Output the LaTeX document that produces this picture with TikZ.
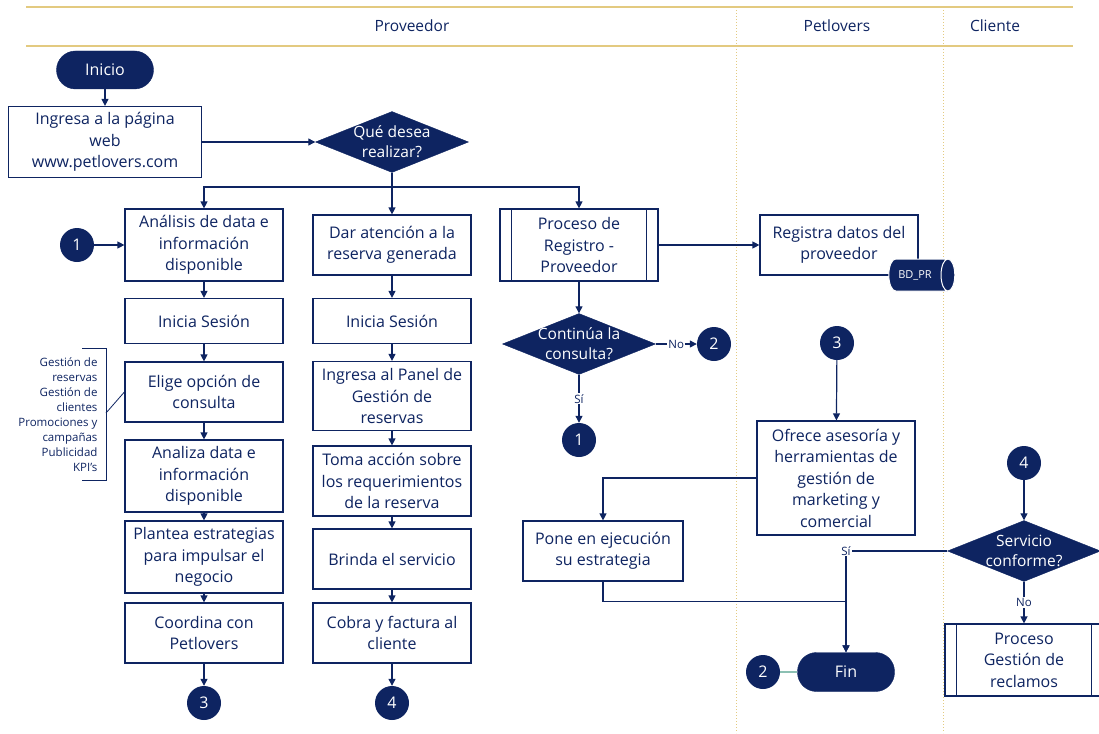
\documentclass[tikz,border=0pt]{standalone}
\usepackage{fontspec}
\setmainfont{Open Sans}
\usetikzlibrary{shapes.geometric,arrows.meta}
\definecolor{navy}{HTML}{0E2461}
\definecolor{lanegold}{HTML}{E3CA80}
\definecolor{linkteal}{HTML}{8CC0B3}

\tikzset{
    procbox/.style={draw=navy, line width=1.2pt, fill=white, text=navy, align=center,
        font=\fontsize{16}{21.5}\selectfont, inner sep=0pt, minimum width=158},
    terminal/.style={draw=navy, fill=navy, text=white, rounded corners=19pt,
        minimum width=97, minimum height=38, font=\fontsize{16}{18}\selectfont},
    decision/.style={diamond, draw=navy, fill=navy, minimum width=153, minimum height=61, inner sep=0pt},
    dtext/.style={text=white, align=center, font=\fontsize{15.5}{20}\selectfont},
    conn/.style={circle, fill=navy, text=white, minimum size=34, inner sep=0pt,
        font=\fontsize{16}{18}\selectfont},
    arr/.style={draw=navy, line width=1.2pt, -{Triangle[length=7pt,width=7pt]}},
    lbl/.style={fill=white, text=navy, font=\fontsize{11.5}{13}\selectfont, inner sep=1pt},
    lane/.style={text=navy, font=\fontsize{15.5}{18}\selectfont}
}

\begin{document}
\begin{tikzpicture}[x=1pt, y=-1pt]
        \useasboundingbox (0,0) rectangle (1099,733);
        % carriles
        \draw [lanegold, line width=1.5pt] (26,7) -- (1073,7);
        \draw [lanegold, line width=1.5pt] (26,46) -- (1073,46);
        \foreach \x in {736, 943}
            \draw [lanegold, dotted, line width=1pt] (\x,7) -- (\x,733);
        \foreach \name/\x in {Proveedor/412, Petlovers/837, Cliente/995}
            \node [lane] (lane-\name) at (\x,26) {\name};
        % inicio
        \node [terminal] (inicio) at (105,70) {Inicio};
        \node [procbox, minimum width=193, minimum height=71] (ingresa) at (105,142) {Ingresa a la página\\web\\www.petlovers.com};
        \node [decision] (que) at (392,142) {};
        \node [dtext] (que-txt) at (que) {Qué desea\\realizar?};
        \coordinate (split) at (392,187);
        % columna analisis
        \node [conn] (c1a) at (77,245) {1};
        \node [procbox, minimum height=72] (analisis) at (204,245) {Análisis de data e\\información\\disponible};
        \node [procbox, minimum height=45] (sesA) at (204,321) {Inicia Sesión};
        \node [procbox, minimum height=60] (elige) at (204,392) {Elige opción de\\consulta};
        \node [procbox, minimum height=72] (analiza) at (204,476) {Analiza data e\\información\\disponible};
        \node [procbox, minimum height=72] (plantea) at (204,557) {Plantea estrategias\\para impulsar el\\negocio};
        \node [procbox, minimum height=60] (coordina) at (204,633) {Coordina con\\Petlovers};
        \node [conn] (c3a) at (204,703) {3};
        % opciones
        \node [text=navy, align=right, anchor=east, font=\fontsize{11.5}{15}\selectfont] (opciones) at (101,415)
            {Gestión de\\reservas\\Gestión de\\clientes\\Promociones y\\campañas\\Publicidad\\KPI’s};
        \draw [navy, line width=0.8pt] (82,348) -- (106,348) -- (106,480) -- (82,480);
        \coordinate (brace) at (106,413);
        \draw [navy, line width=0.8pt] (brace) -- (elige.west);
        % columna reserva
        \node [procbox, minimum height=60] (dar) at (392,245) {Dar atención a la\\reserva generada};
        \node [procbox, minimum height=45] (sesB) at (392,321) {Inicia Sesión};
        \node [procbox, minimum height=69] (panel) at (392,396) {Ingresa al Panel de\\Gestión de\\reservas};
        \node [procbox, minimum height=70] (toma) at (392,481) {Toma acción sobre\\los requerimientos\\de la reserva};
        \node [procbox, minimum height=60] (brinda) at (392,559) {Brinda el servicio};
        \node [procbox, minimum height=60] (cobra) at (392,633) {Cobra y factura al\\cliente};
        \node [conn] (c4a) at (392,703) {4};
        % registro
        \node [procbox, minimum height=72] (registro) at (579,245) {Proceso de\\Registro -\\Proveedor};
        \foreach \n in {registro}{
            \draw [navy, line width=1.2pt] ([xshift=12pt]\n.north west) -- ([xshift=12pt]\n.south west);
            \draw [navy, line width=1.2pt] ([xshift=-12pt]\n.north east) -- ([xshift=-12pt]\n.south east);
        }
        \node [procbox, minimum height=60] (registra) at (839,245) {Registra datos del\\proveedor};
        \node [cylinder, draw=white, line width=1pt, fill=navy, text=white, minimum width=32, minimum height=66,
            aspect=0.5, inner xsep=1pt, inner ysep=9pt, font=\fontsize{11}{13}\selectfont] (bd) at (915,275) {BD\_PR};
        \node [decision] (continua) at (579,344) {};
        \node [dtext] (continua-txt) at (continua) {Continúa la\\consulta?};
        \node [conn] (c2a) at (714,344) {2};
        \node [conn] (c1b) at (579,440) {1};
        % petlovers
        \node [conn] (c3b) at (837,343) {3};
        \node [procbox, minimum height=114] (ofrece) at (836,478) {Ofrece asesoría y\\herramientas de\\gestión de\\marketing y\\comercial};
        \node [procbox, minimum width=160, minimum height=60] (pone) at (603,551) {Pone en ejecución\\su estrategia};
        \node [terminal, minimum height=39] (fin) at (846,672) {Fin};
        \node [conn] (c2b) at (763,672) {2};
        % cliente
        \node [conn] (c4b) at (1024,463) {4};
        \node [decision] (serv) at (1024,551) {};
        \node [dtext] (serv-txt) at (serv) {Servicio\\conforme?};
        \node [procbox, minimum height=72] (recl) at (1024,660) {Proceso\\Gestión de\\reclamos};
        \draw [navy, line width=1.2pt] ([xshift=12pt]recl.north west) -- ([xshift=12pt]recl.south west);
        \draw [navy, line width=1.2pt] ([xshift=-12pt]recl.north east) -- ([xshift=-12pt]recl.south east);
        % conectores
        \draw [arr] (inicio) -- (ingresa);
        \draw [arr] (ingresa.east) -- (que.west);
        \draw [navy, line width=1.2pt] (que.south) -- (split);
        \draw [arr] (split) -| (analisis.north);
        \draw [arr] (split) -- (dar.north);
        \draw [arr] (split) -| (registro.north);
        \draw [arr] (c1a) -- (analisis.west);
        \foreach \a/\b in {analisis/sesA, sesA/elige, elige/analiza, analiza/plantea, plantea/coordina, coordina/c3a,
                dar/sesB, sesB/panel, panel/toma, toma/brinda, brinda/cobra, cobra/c4a}
            \draw [arr] (\a) -- (\b);
        \draw [arr] (registro) -- (registra);
        \draw [arr] (registro) -- (continua);
        \draw [arr] (continua.east) -- node [lbl] {No} (c2a);
        \draw [arr] (continua.south) -- node [lbl] {Sí} (c1b);
        \draw [arr] (c3b) -- (ofrece);
        \draw [arr] (ofrece.west) -| (pone.north);
        \draw [arr] (pone.south) -- ++(0,20) -| (fin.north);
        \draw [arr] (serv.west) -| node [lbl, pos=0.5] {Sí} (fin.north);
        \draw [linkteal, line width=1.5pt] (c2b) -- (fin);
        \draw [arr] (c4b) -- (serv);
        \draw [arr] (serv.south) -- node [lbl] {No} (recl);
\end{tikzpicture}
\end{document}
